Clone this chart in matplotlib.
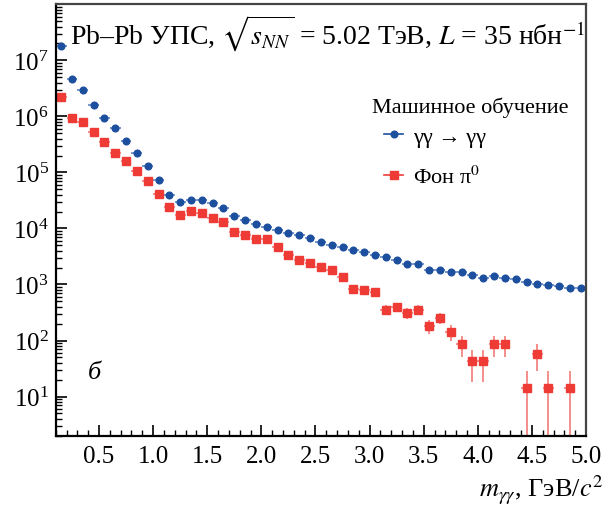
import matplotlib

matplotlib.use("Agg")

import numpy as np  # noqa: E402
import matplotlib.pyplot as plt  # noqa: E402
from matplotlib.lines import Line2D  # noqa: E402
from matplotlib.ticker import FormatStrFormatter, MultipleLocator, FixedLocator, LogLocator, NullFormatter  # noqa: E402

plt.rcParams["font.family"] = ["Liberation Serif", "DejaVu Serif"]
plt.rcParams["mathtext.fontset"] = "stix"

# bin centres, GeV/c^2
mass = np.arange(0.15, 5.0, 0.1)

# ML-selected gamma gamma -> gamma gamma
signal = [1.83e7, 4.6e6, 2.9e6, 1.59e6, 9.5e5, 6.1e5, 3.7e5, 2.18e5, 1.28e5, 7.4e4,
          4.0e4, 2.95e4, 3.25e4, 3.25e4, 2.8e4, 2.3e4, 1.7e4, 1.39e4, 1.18e4, 1.06e4,
          9.2e3, 8.4e3, 7.5e3, 6.7e3, 5.8e3, 5.0e3, 4.6e3, 4.2e3, 3.78e3, 3.34e3,
          3.12e3, 2.76e3, 2.34e3, 2.28e3, 1.85e3, 1.85e3, 1.66e3, 1.69e3, 1.49e3, 1.30e3,
          1.39e3, 1.30e3, 1.23e3, 1.09e3, 1.03e3, 973, 921, 873, 873]

# pi0 background
background = [2.25e6, 9.5e5, 7.9e5, 5.3e5, 3.5e5, 2.25e5, 1.6e5, 1.06e5, 7.1e4, 4.2e4,
              2.4e4, 1.73e4, 2.07e4, 1.88e4, 1.55e4, 1.32e4, 8.7e3, 7.7e3, 6.4e3, 6.4e3,
              4.7e3, 3.39e3, 2.72e3, 2.44e3, 2.07e3, 1.8e3, 1.37e3, 838, 804, 741,
              353, 393, 308, 353, 180, 254, 143, 86, 43, 43,
              86, 86, np.nan, 14.4, 58, 14.4, np.nan, 14.4, np.nan]
background_err = [5700, 3700, 3400, 2800, 2250, 1800, 1500, 1240, 1010, 780,
                  590, 500, 550, 520, 470, 440, 350, 330, 300, 300,
                  260, 220, 200, 190, 170, 160, 140, 110, 107, 103,
                  71, 75, 67, 71, 51, 60, 45, 35, 25, 25,
                  35, 35, np.nan, 14.4, 29, 14.4, np.nan, 14.4, np.nan]

blue = "#1c4f9e"
red = "#ee3b36"

fig = plt.figure(figsize=(6.13, 5.10), dpi=100)
ax = fig.add_axes([0.0909, 0.1437, 0.8651, 0.8459])
ax.set_yscale("log", nonpositive="clip")

ax.errorbar(mass, background, yerr=background_err, xerr=0.05, fmt="s", ms=5.5,
            color=red, ecolor="#f27c78", elinewidth=1.2, capsize=0)
ax.errorbar(mass, signal, xerr=0.05, fmt="o", ms=4.8, color=blue,
            ecolor="#5f86c4", elinewidth=1.2, capsize=0)

ax.set_xlim(0.1, 5.0)
ax.set_ylim(2, 1e8)

ax.xaxis.set_major_locator(MultipleLocator(0.5))
ax.xaxis.set_minor_locator(MultipleLocator(0.1))
ax.xaxis.set_major_formatter(FormatStrFormatter("%.1f"))
ax.yaxis.set_major_locator(FixedLocator([1e1, 1e2, 1e3, 1e4, 1e5, 1e6, 1e7]))
ax.yaxis.set_minor_locator(LogLocator(base=10, subs=np.arange(2, 10), numticks=12))
ax.yaxis.set_minor_formatter(NullFormatter())
ax.tick_params(which="both", direction="in", labelsize=18, top=False, right=False)
ax.tick_params(which="major", length=8, width=1.2)
ax.tick_params(which="minor", length=4, width=1.0)
ax.tick_params(axis="x", pad=7)
ax.tick_params(axis="y", pad=5)
for side in ["left", "bottom"]:
    ax.spines[side].set_linewidth(1.6)
for side in ["top", "right"]:
    ax.spines[side].set_linewidth(1.6)
    ax.spines[side].set_color("#444444")

ax.text(0.027, 0.933, r"Pb–Pb УПС, $\sqrt{s_{NN}}$ = 5.02 ТэВ, $L$ = 35 нбн$^{-1}$",
        transform=ax.transAxes, ha="left", va="center", fontsize=20)
ax.text(0.074, 0.148, "б", transform=ax.transAxes, ha="center", va="center",
        fontsize=19, fontstyle="italic")

# legend title drawn separately so its gap to the entries matches
ax.text((372 - 55.7) / 530, (436.7 - 108) / 431.4, "Машинное обучение",
        transform=ax.transAxes, ha="left", va="center", fontsize=16)

handles = [
    Line2D([], [], color=blue, marker="o", ms=4.8, lw=1.2),
    Line2D([], [], color=red, marker="s", ms=5.5, lw=1.2),
]
leg = ax.legend(handles, ["γγ → γγ", r"Фон π$^0$"],
                loc="upper left", bbox_to_anchor=((384 - 55.7) / 530, (436.7 - 127) / 431.4),
                frameon=False, fontsize=16, handlelength=0.85, labelspacing=0.85,
                handletextpad=0.45, borderaxespad=0, borderpad=0)

fig.text(0.985, 1 - 490 / 510, r"$m_{\gamma\gamma}$, ГэВ/$c^2$", ha="right", va="center",
         fontsize=19)

fig.savefig("out.png", dpi=100)
